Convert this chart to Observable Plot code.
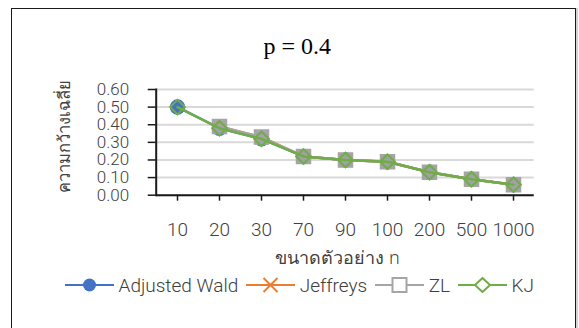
<!DOCTYPE html>
<html><head><meta charset="utf-8">
<script src="https://cdn.jsdelivr.net/npm/d3@7"></script>
<script src="https://cdn.jsdelivr.net/npm/@observablehq/plot@0.6"></script>
<style>
body{margin:0;background:#fff;}
#wrap{position:relative;width:579px;height:328px;overflow:hidden;background:#fff;}
#frame{position:absolute;left:10.5px;top:7.5px;width:563px;height:340px;border:1.5px solid #1a1a1a;box-shadow:2px 0 0 #d4d4d4;}
#chart{position:absolute;left:0;top:0;}
#legend{position:absolute;left:65px;top:275px;height:20px;display:flex;align-items:center;font-family:Roboto,"Noto Sans",sans-serif;font-size:19px;font-weight:300;color:#404040;white-space:nowrap;}
.item{display:flex;align-items:center;margin-right:8px;}
.item svg{margin-right:4.5px;}
</style></head>
<body><div id="wrap"><div id="frame"></div><div id="chart"></div><div id="legend"></div></div>
<script>
const sizes = ["10","20","30","70","90","100","200","500","1000"];
const adjustedWald = [0.50,0.38,0.32,0.22,0.20,0.19,0.13,0.09,0.06];
const jeffreys     = [null,0.39,0.33,0.22,0.20,0.19,0.13,0.09,0.06];
const zl           = [null,0.39,0.33,0.22,0.20,0.19,0.13,0.09,0.06];
const kj           = [0.50,0.38,0.32,0.22,0.20,0.19,0.13,0.09,0.06];
const yTicks = [0,0.1,0.2,0.3,0.4,0.5,0.6];
const seriesNames = ["Adjusted Wald","Jeffreys","ZL","KJ"];
const colors = ["#4472C4","#ED7D31","#A5A5A5","#70AD47"];
const titleText = "p = 0.4";
const xTitle = "ขนาดตัวอย่าง n";
const yTitle = "ความกว้างเฉลี่ย";

const seriesValues = [adjustedWald, jeffreys, zl, kj];
const rows = s => sizes.map((n,i)=>({n, v: seriesValues[s][i]})).filter(d=>d.v!=null);
const numFont = '"Roboto",sans-serif';
const thaiFont = '"Noto Sans","Roboto",sans-serif';

const marks = [
  Plot.ruleY(yTicks, {stroke:"#d9d9d9", strokeWidth:2}),
  Plot.axisY({ticks: yTicks, tickFormat: d=>d.toFixed(2), tickSize:8, tickPadding:19, stroke:"#1a1a1a", strokeWidth:1.5, fill:"#404040", fontSize:17, fontWeight:300, fontFamily:numFont, label:null}),
  Plot.axisX({tickSize:6, tickPadding:21, stroke:"#1a1a1a", strokeWidth:1.5, fill:"#404040", fontSize:19, fontWeight:300, fontFamily:numFont, label:null}),
  Plot.ruleY([0], {stroke:"#1a1a1a", strokeWidth:2}),
  Plot.frame({anchor:"left", stroke:"#1a1a1a", strokeWidth:2}),
];
const symbols = [
  {symbol:"circle", r:7, fill:colors[0], stroke:colors[0]},
  {symbol:"times", r:6.4, stroke:colors[1], strokeWidth:1.5, fill:"none"},
  {symbol:"square", r:7.9, fill:colors[2], fillOpacity:0.92, stroke:colors[2], strokeWidth:1.5},
  {symbol:"diamond2", r:6.6, stroke:colors[3], strokeWidth:2, fill:"none"},
];
for (let s=0;s<4;s++){
  marks.push(Plot.line(rows(s), {x:"n", y:"v", stroke:colors[s], strokeWidth:2.5}));
  marks.push(Plot.dot(rows(s), {x:"n", y:"v", ...symbols[s]}));
}
marks.push(
  Plot.text([titleText], {frameAnchor:"top", text:d=>d, dx:-48, dy:-43.5, lineAnchor:"middle", textAnchor:"middle", fontFamily:'"Liberation Serif","Times New Roman",serif', fontSize:24, fill:"#000"}),
  Plot.text([xTitle], {frameAnchor:"bottom", text:d=>d, dx:-7.7, dy:63, lineAnchor:"middle", textAnchor:"middle", fontFamily:thaiFont, fontSize:18, fontWeight:300, fill:"#404040"}),
  Plot.text([yTitle], {frameAnchor:"left", text:d=>d, rotate:-90, dx:-91, dy:-6, lineAnchor:"middle", textAnchor:"middle", fontFamily:thaiFont, fontSize:16.5, fontWeight:300, fill:"#404040"})
);

const chart = Plot.plot({
  width:579, height:328,
  marginTop:89, marginBottom:133.3, marginLeft:155.7, marginRight:45.3,
  x:{type:"band", domain:sizes, padding:0, axis:null},
  y:{domain:[0,0.6], axis:null},
  style:{background:"transparent", overflow:"visible"},
  marks
});
document.getElementById("chart").appendChild(chart);

// legend
const legend = document.getElementById("legend");
const sw = [
  '<circle cx="24.5" cy="8" r="6.5" fill="#4472C4"/>',
  '<path d="M17.5,1 L31.5,15 M31.5,1 L17.5,15" stroke="#ED7D31" stroke-width="2" fill="none"/>',
  '<rect x="17.5" y="1" width="14" height="14" fill="#fff" stroke="#A5A5A5" stroke-width="2"/>',
  '<path d="M24.5,1 L32,8 L24.5,15 L17,8 Z" fill="#fff" stroke="#70AD47" stroke-width="2"/>'
];
seriesNames.forEach((name,i)=>{
  const it = document.createElement("div"); it.className="item";
  it.innerHTML = `<svg width="49" height="16"><line x1="0" x2="49" y1="8" y2="8" stroke="${colors[i]}" stroke-width="2"/>${sw[i]}</svg><span>${name}</span>`;
  legend.appendChild(it);
});
</script></body></html>
